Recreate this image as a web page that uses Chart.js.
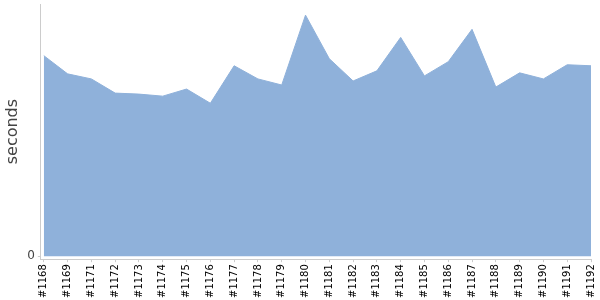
<!DOCTYPE html>
<html>
<head>
<meta charset="utf-8">
<script src="https://cdn.jsdelivr.net/npm/chart.js@4/dist/chart.umd.min.js"></script>
<style>
  html, body { margin: 0; padding: 0; background: #fff; }
  #wrap { width: 600px; height: 300px; }
</style>
</head>
<body>
<div id="wrap"><canvas id="myChart"></canvas></div>
<script>
const builds = [
  "#1168", "#1169", "#1171", "#1172", "#1173", "#1174", "#1175", "#1176",
  "#1177", "#1178", "#1179", "#1180", "#1181", "#1182", "#1183", "#1184",
  "#1185", "#1186", "#1187", "#1188", "#1189", "#1190", "#1191", "#1192",
];
const durations = [
  198, 180, 175, 161, 160, 158, 165, 151,
  188, 175, 169, 238, 195, 173, 183, 216,
  178, 192, 224, 167, 181, 175, 189, 188,
];
const yTicks = [0];
const yMax = 249;

// points indexed by build position so the axes can sit slightly apart from the area
const points = builds.map((b, i) => ({ x: i, y: durations[i] }));

const data = {
  datasets: [
    {
      label: "duration",
      data: points,
      fill: "origin",
      backgroundColor: "rgb(143, 177, 218)",
      borderColor: "rgb(143, 177, 218)",
      borderWidth: 1,
      pointRadius: 0,
      tension: 0,
    },
  ],
};

const config = {
  type: "line",
  data: data,
  options: {
    responsive: true,
    maintainAspectRatio: false,
    animation: false,
    layout: {
      padding: { top: 4, right: 9, left: 3, bottom: 0 },
    },
    plugins: {
      legend: { display: false },
      tooltip: { enabled: false },
    },
    scales: {
      x: {
        type: "linear",
        min: -0.125,
        max: builds.length - 1,
        grid: {
          drawOnChartArea: false,
          tickLength: 3,
          color: "#ccc",
        },
        border: { color: "#ccc" },
        afterBuildTicks: (axis) => {
          axis.ticks = builds.map((b, i) => ({ value: i }));
        },
        afterFit: (axis) => {
          axis.paddingRight = 0;
        },
        ticks: {
          minRotation: 90,
          maxRotation: 90,
          autoSkip: false,
          color: "#000",
          padding: 2,
          font: { family: "DejaVu Sans", size: 10 },
          callback: (value) => builds[value],
        },
      },
      y: {
        min: -3,
        max: yMax,
        grid: {
          drawOnChartArea: false,
          tickLength: 3,
          color: "#ccc",
        },
        border: { color: "#ccc" },
        afterBuildTicks: (axis) => {
          axis.ticks = yTicks.map((v) => ({ value: v }));
        },
        afterFit: (axis) => {
          axis.paddingTop = 0;
        },
        ticks: {
          color: "#444",
          padding: 3,
          font: { family: "DejaVu Sans", size: 12 },
        },
        title: {
          display: true,
          text: "seconds",
          color: "#444",
          padding: { top: 0, bottom: 2 },
          font: { family: "DejaVu Sans", size: 16 },
        },
      },
    },
  },
};

const myChart = new Chart(document.getElementById("myChart"), config);
</script>
</body>
</html>
